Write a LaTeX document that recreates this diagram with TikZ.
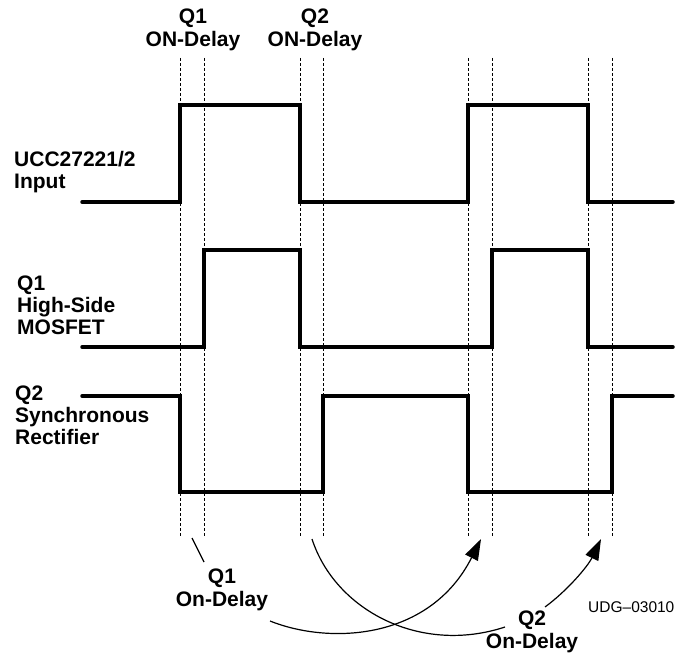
\documentclass[tikz,border=0pt]{standalone}
\usepackage{fontspec}
\setmainfont{Liberation Sans}
\usetikzlibrary{arrows.meta}

\begin{document}
\begin{tikzpicture}[
  x=1pt, y=-1pt,
  wave/.style={line width=3.5pt, line cap=round, line join=miter},
  guide/.style={line width=0.9pt, dash pattern=on 3pt off 2pt},
  sig/.style={font=\fontsize{21}{22}\selectfont\bfseries, inner sep=0pt,
    align=left, anchor=west},
  tag/.style={font=\fontsize{21}{23}\selectfont\bfseries, inner sep=0pt,
    align=center},
  link/.style={line width=1.2pt},
  arr/.style={link, -{Triangle[length=21pt,width=14pt]}},
]
\useasboundingbox (0,0) rectangle (676,658);

% Dashed timing guides
\foreach \xg [count=\i] in {180,204,300,323,468,492,588,612} {
  \coordinate (gt\i) at (\xg,58);
  \coordinate (gb\i) at (\xg,537);
  \draw[guide] (gt\i) -- (gb\i);
}

% Signal names on the left
\node[sig] (inlbl) at (14,172.5) {UCC27221/2\\Input};
\node[sig] (q1lbl) at (17,305) {Q1\\High-Side\\MOSFET};
\node[sig] (q2lbl) at (15,415) {Q2\\Synchronous\\Rectifier};

% Waveforms
\draw[wave] (82,202) -- (180,202) -- (180,105) -- (300,105) -- (300,202)
  -- (468,202) -- (468,105) -- (588,105) -- (588,202) -- (673,202);
\draw[wave] (82,347) -- (204,347) -- (204,250) -- (300,250) -- (300,347)
  -- (492,347) -- (492,250) -- (588,250) -- (588,347) -- (673,347);
\draw[wave] (82,396) -- (180,396) -- (180,492) -- (323,492) -- (323,396)
  -- (468,396) -- (468,492) -- (612,492) -- (612,396) -- (673,396);

% Delay labels
\node[tag] (q1top) at (193,30) {Q1\\ON-Delay};
\node[tag] (q2top) at (315,30) {Q2\\ON-Delay};
\node[tag] (q1bot) at (222,590) {Q1\\On-Delay};
\node[tag] (q2bot) at (532,632) {Q2\\On-Delay};
\node[font=\fontsize{15.5}{18}\selectfont, inner sep=0pt, anchor=west]
  (udg) at (588,607) {UDG\textendash 03010};

% Pointers from the delays to the next edges
\coordinate (q1a) at (192,538);
\coordinate (q1b) at (204,562);
\coordinate (q1c) at (270,621);
\coordinate (tip1) at (481,539);
\coordinate (q2a) at (312,539);
\coordinate (q2b) at (505,627);
\coordinate (q2c) at (545,607);
\coordinate (tip2) at (601,539);

\draw[link] (q1a) -- (q1b);
\draw[arr] (q1c) .. controls (330,645) and (430,640) .. (tip1);
\draw[link] (q2a) .. controls (335,610) and (420,655) .. (q2b);
\draw[arr] (q2c) .. controls (568,590) and (588,566) .. (tip2);

\end{tikzpicture}
\end{document}
